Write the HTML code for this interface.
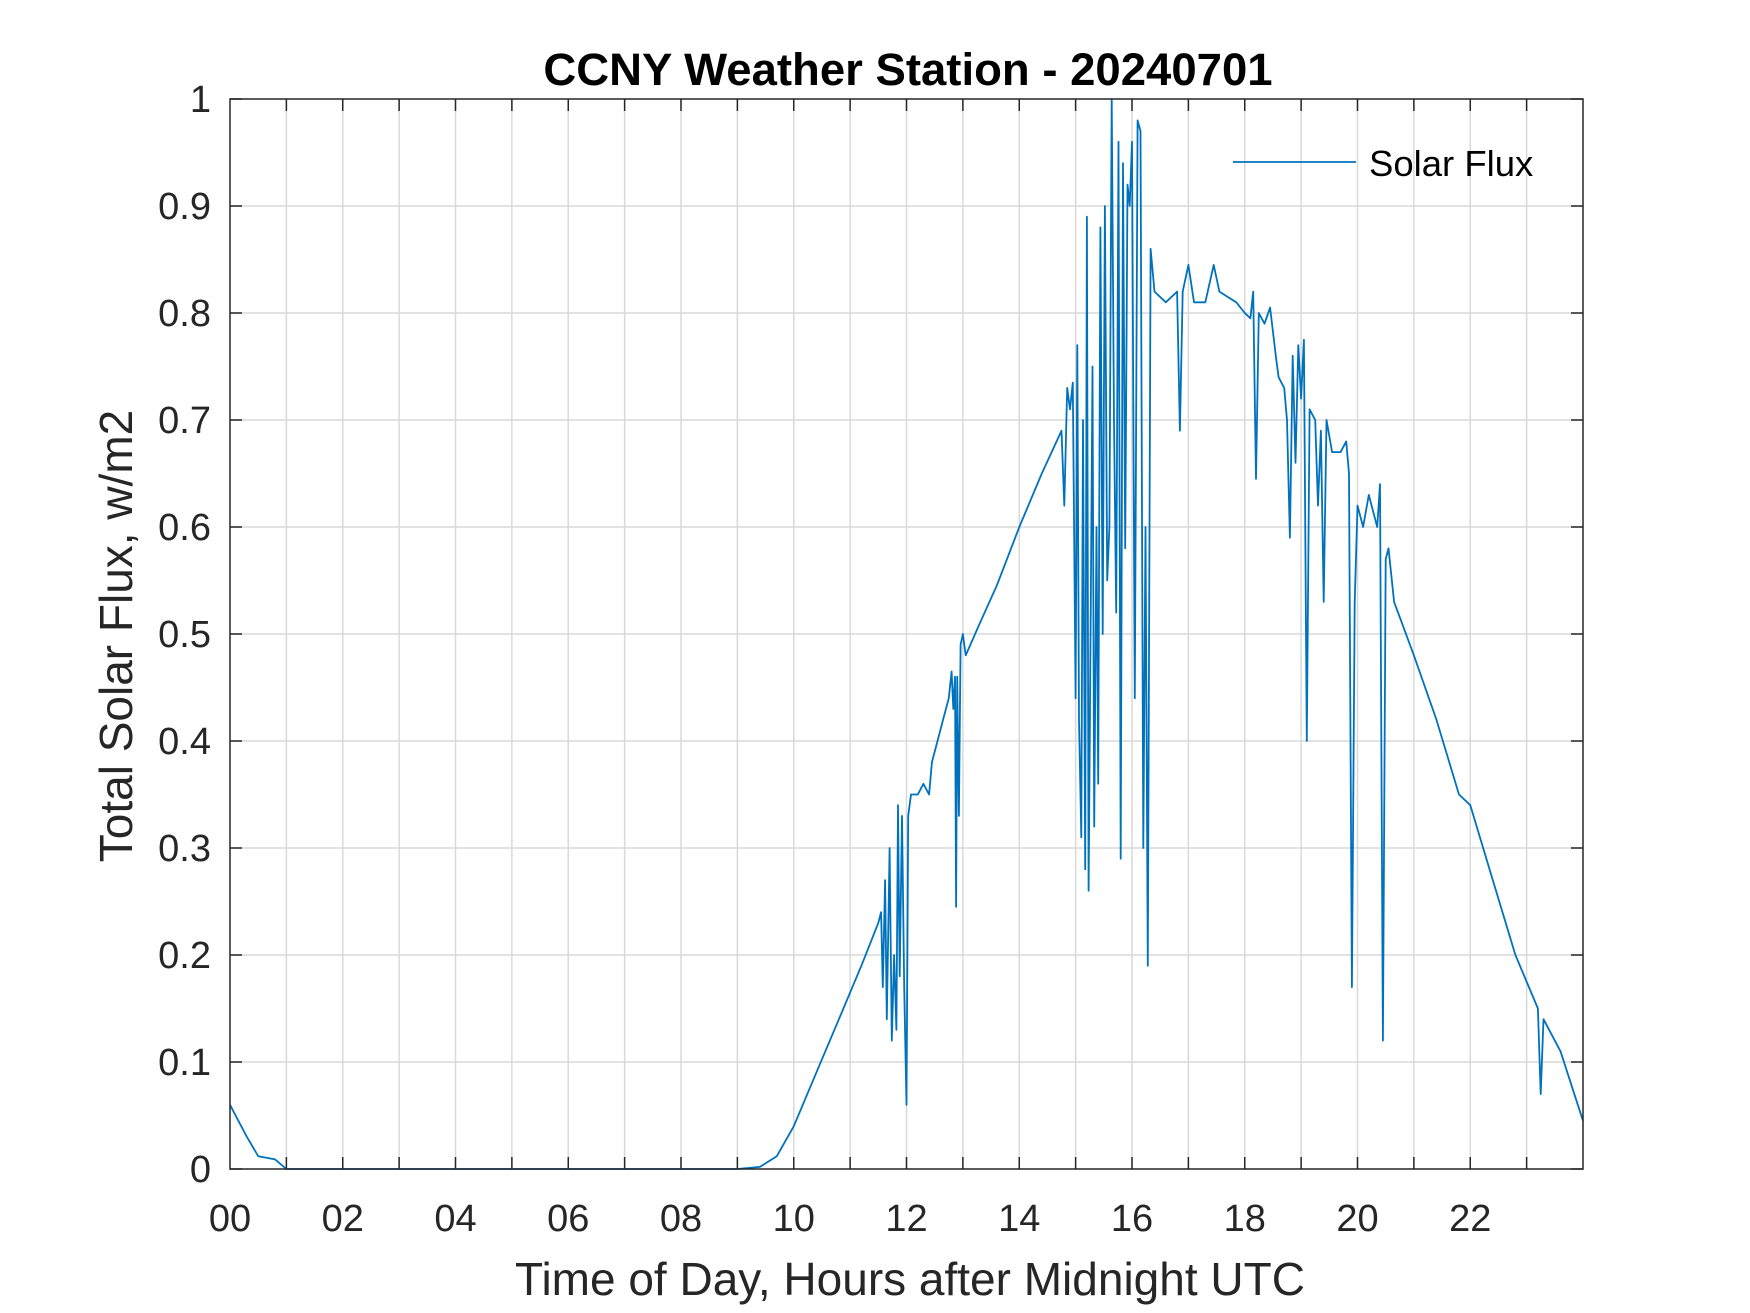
<!DOCTYPE html>
<html><head><meta charset="utf-8"><style>
body{margin:0;background:#fff;}
svg{display:block;font-family:"Liberation Sans",Arial,sans-serif;}
</style></head><body>
<svg id="chart" width="1750" height="1313" viewBox="0 0 1750 1313">
<rect width="1750" height="1313" fill="#fff"/>
<g id="grid"></g>
<g id="ticks"></g>
<g id="series"></g>
<rect x="230" y="99" width="1353" height="1070" fill="none" stroke="#262626" stroke-width="1.5"/>
<text x="908" y="85" text-anchor="middle" font-size="45.5" font-weight="bold" fill="#000">CCNY Weather Station - 20240701</text>
<text x="910" y="1295" text-anchor="middle" font-size="46" fill="#262626">Time of Day, Hours after Midnight UTC</text>
<text transform="translate(132,636) rotate(-90)" text-anchor="middle" font-size="46" fill="#262626">Total Solar Flux, w/m2</text>
<g>
<line x1="1233" y1="162" x2="1356" y2="162" stroke="#0072BD" stroke-width="1.8"/>
<text x="1369" y="176" font-size="36.5" fill="#000">Solar Flux</text>
</g>
</svg>
<script>
const hours=[0,0.1,0.3,0.5,0.8,1.0,9.0,9.4,9.7,10.0,10.4,10.8,11.2,11.5,11.55,11.58,11.62,11.65,11.7,11.74,11.78,11.82,11.85,11.88,11.92,11.96,12.0,12.03,12.08,12.2,12.3,12.4,12.45,12.55,12.65,12.75,12.8,12.83,12.86,12.88,12.9,12.93,12.96,13.0,13.05,13.3,13.6,14.0,14.4,14.75,14.8,14.85,14.9,14.95,15.0,15.03,15.06,15.1,15.13,15.17,15.2,15.23,15.27,15.3,15.33,15.37,15.4,15.44,15.48,15.52,15.56,15.6,15.64,15.68,15.72,15.76,15.8,15.84,15.88,15.92,15.96,16.0,16.05,16.1,16.15,16.2,16.24,16.28,16.33,16.4,16.6,16.8,16.85,16.9,17.0,17.1,17.3,17.45,17.55,17.7,17.85,18.0,18.1,18.15,18.2,18.25,18.35,18.45,18.55,18.6,18.7,18.75,18.8,18.85,18.9,18.95,19.0,19.05,19.1,19.15,19.25,19.3,19.35,19.4,19.45,19.55,19.7,19.8,19.85,19.9,19.95,20.0,20.1,20.2,20.35,20.4,20.45,20.5,20.55,20.65,21.0,21.4,21.8,22.0,22.4,22.8,23.2,23.25,23.3,23.6,24.0];
const flux=[0.06,0.05,0.03,0.012,0.009,0,0,0.002,0.012,0.04,0.09,0.14,0.19,0.23,0.24,0.17,0.27,0.14,0.3,0.12,0.2,0.13,0.34,0.18,0.33,0.17,0.06,0.33,0.35,0.35,0.36,0.35,0.38,0.4,0.42,0.44,0.465,0.43,0.46,0.245,0.46,0.33,0.49,0.5,0.48,0.51,0.545,0.6,0.65,0.69,0.62,0.73,0.71,0.735,0.44,0.77,0.42,0.31,0.7,0.28,0.89,0.26,0.53,0.75,0.32,0.6,0.36,0.88,0.5,0.9,0.55,0.6,1.0,0.7,0.52,0.96,0.29,0.94,0.58,0.92,0.9,0.96,0.44,0.98,0.97,0.3,0.6,0.19,0.86,0.82,0.81,0.82,0.69,0.82,0.845,0.81,0.81,0.845,0.82,0.815,0.81,0.8,0.795,0.82,0.645,0.8,0.79,0.805,0.76,0.74,0.73,0.7,0.59,0.76,0.66,0.77,0.72,0.775,0.4,0.71,0.7,0.62,0.69,0.53,0.7,0.67,0.67,0.68,0.65,0.17,0.53,0.62,0.6,0.63,0.6,0.64,0.12,0.57,0.58,0.53,0.48,0.42,0.35,0.34,0.27,0.2,0.15,0.07,0.14,0.11,0.045];
const xTickLabels=["00","02","04","06","08","10","12","14","16","18","20","22"];
const yTickLabels=["0","0.1","0.2","0.3","0.4","0.5","0.6","0.7","0.8","0.9","1"];
const NS="http://www.w3.org/2000/svg";
const X0=230,X1=1583,Y0=99,Y1=1169;
function xs(h){return X0+(X1-X0)*h/24;}
function ys(v){return Y1-(Y1-Y0)*v;}
function mk(t,a,p){const e=document.createElementNS(NS,t);for(const k in a)e.setAttribute(k,a[k]);p.appendChild(e);return e;}
const grid=document.getElementById('grid'),ticks=document.getElementById('ticks'),series=document.getElementById('series');
for(let h=1;h<24;h++){
  const g=mk('line',{x1:xs(h),x2:xs(h),y1:Y0,y2:Y1,stroke:'#d9d9d9','stroke-width':1.5},grid);
  
  
  const t1=mk('line',{x1:xs(h),x2:xs(h),y1:Y1,y2:Y1-12,stroke:'#262626','stroke-width':1.5},ticks);
  
  
  const t2=mk('line',{x1:xs(h),x2:xs(h),y1:Y0,y2:Y0+12,stroke:'#262626','stroke-width':1.5},ticks);
  
  
}
xTickLabels.forEach((s,i)=>{
  const t=mk('text',{x:xs(i*2),y:1231,'text-anchor':'middle','font-size':38,fill:'#262626'},ticks);
  t.textContent=s;
  
  
});
yTickLabels.forEach((s,i)=>{
  const v=i/10;
  if(i>0&&i<10){
    const g=mk('line',{x1:X0,x2:X1,y1:ys(v),y2:ys(v),stroke:'#d9d9d9','stroke-width':1.5},grid);
    
    
  }
  const a=mk('line',{x1:X0,x2:X0+12,y1:ys(v),y2:ys(v),stroke:'#262626','stroke-width':1.5},ticks);
  
  
  const b=mk('line',{x1:X1,x2:X1-12,y1:ys(v),y2:ys(v),stroke:'#262626','stroke-width':1.5},ticks);
  
  
  const t=mk('text',{x:211,y:ys(v)+13,'text-anchor':'end','font-size':38,fill:'#262626'},ticks);
  t.textContent=s;
  
  
});
const pts=hours.map((h,i)=>xs(h).toFixed(1)+','+ys(flux[i]).toFixed(1)).join(' ');
const pl=mk('polyline',{points:pts,fill:'none',stroke:'#0072BD','stroke-width':1.8,'stroke-linejoin':'round'},series);


</script>
</body></html>
